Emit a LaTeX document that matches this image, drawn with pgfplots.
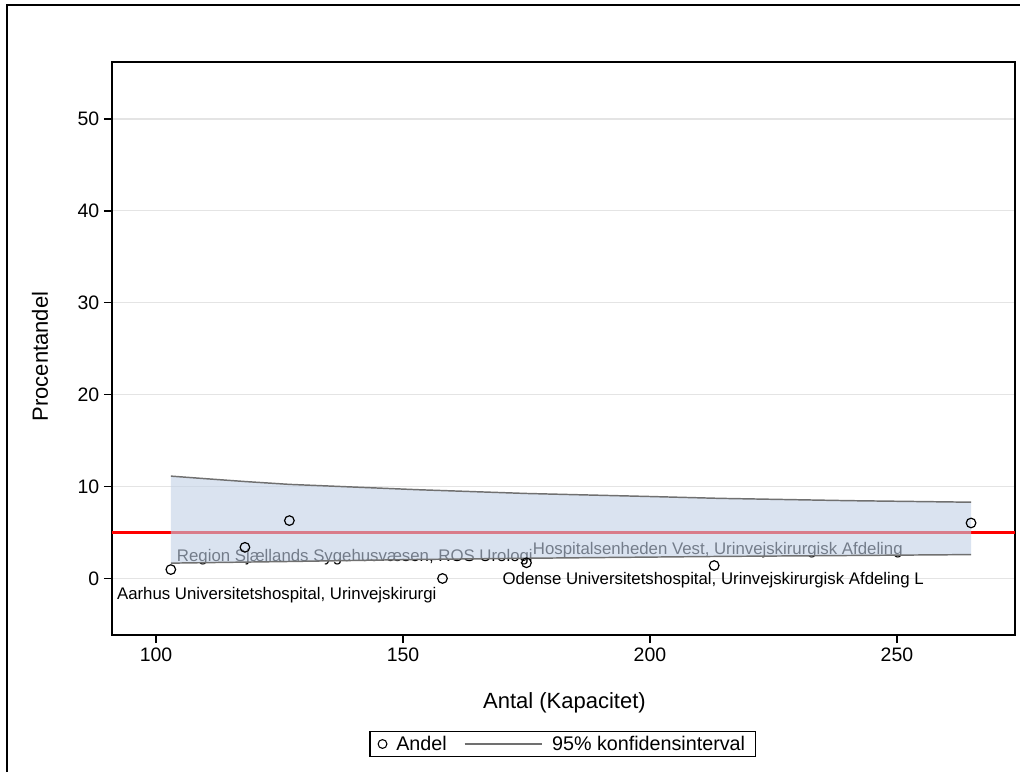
\documentclass[border=0pt]{standalone}
\usepackage{pgfplots}
\pgfplotsset{compat=1.18}
\usepackage{fontspec}
\setmainfont{Liberation Sans}
\definecolor{bandfill}{RGB}{193,208,230}
\definecolor{bandline}{RGB}{112,112,112}
\definecolor{gridc}{RGB}{228,228,228}
\begin{document}
\begin{tikzpicture}
\useasboundingbox (0,0) rectangle (765pt,579pt);
\draw[line width=1.5pt] (5.6pt,0) -- (5.6pt,574.9pt) -- (765pt,574.9pt);
\begin{axis}[
  at={(84pt,102.75pt)}, anchor=south west,
  scale only axis, width=677.25pt, height=429.75pt,
  xmin=91.09, xmax=273.9, ymin=-6.15, ymax=56.2,
  xtick={100,150,200,250}, ytick={0,10,20,30,40,50},
  tick pos=left, tick align=outside, major tick length=6pt,
  axis line style={line width=1pt},
  tick style={black, line width=1pt},
  ymajorgrids, grid style={gridc, line width=0.8pt},
  /pgf/number format/assume math mode=true,
  ticklabel style={font=\fontsize{14.6pt}{16pt}\selectfont},
  xlabel={Antal (Kapacitet)}, ylabel={Procentandel},
  label style={font=\fontsize{16.5pt}{18pt}\selectfont},
  xlabel style={at={(axis description cs:0.501,-0.1187)}, anchor=center},
  ylabel style={at={(axis description cs:-0.0797,0.486)}, anchor=center},
  legend columns=2,
  legend style={at={(axis description cs:0.4994,-0.1902)}, anchor=center,
    draw=black, line width=1pt, font=\fontsize{14.8pt}{16pt}\selectfont,
    /tikz/every odd column/.append style={column sep=5pt},
    /tikz/every even column/.append style={column sep=11pt},
    inner xsep=6pt, inner ysep=1.5pt},
]
\addlegendimage{only marks, mark=o, mark size=3.3pt, black, mark options={line width=0.8pt}}
\addlegendentry{Andel}
\addlegendimage{legend image code/.code={\draw[bandline, line width=1pt] (0pt,0pt) -- (58pt,0pt);}}
\addlegendentry{95\% konfidensinterval}

% reference line
\addplot[red, line width=2.6pt, forget plot] coordinates {(91.09,5) (273.9,5)};

% labels (drawn before the band so that the band tints them)
\node[anchor=base west, inner sep=0pt, black, font=\fontsize{12.6pt}{14pt}\selectfont]
  at (axis cs:92.07,-2.34) {Aarhus Universitetshospital, Urinvejskirurgi};
\node[anchor=base west, inner sep=0pt, black, font=\fontsize{12.6pt}{14pt}\selectfont]
  at (axis cs:104.19,1.83) {Region Sjællands Sygehusvæsen, ROS Urologi};
\node[anchor=base west, inner sep=0pt, black, font=\fontsize{12.6pt}{14pt}\selectfont]
  at (axis cs:176.25,2.56) {Hospitalsenheden Vest, Urinvejskirurgisk Afdeling};
\node[anchor=base west, inner sep=0pt, black, font=\fontsize{12.6pt}{14pt}\selectfont]
  at (axis cs:170.11,-0.60) {Odense Universitetshospital, Urinvejskirurgisk Afdeling L};

% data points
\addplot[only marks, mark=o, mark size=3.6pt, black, mark options={line width=0.9pt}, forget plot]
  coordinates {(103,0.97) (118,3.39) (127,6.30) (158,0) (175,1.71) (213,1.41) (265,6.04)};

% confidence band
\addplot[fill=bandfill, fill opacity=0.6, draw=none, forget plot] coordinates {
  (103,11.14) (110,10.86) (118,10.55) (127,10.24) (140,9.95) (153,9.66) (175,9.25) (200,8.92) (214,8.72) (240,8.47) (265,8.30)
  (265,2.60) (240,2.50) (214,2.40) (175,2.20) (153,2.07) (127,1.85) (103,1.67)
  } -- cycle;

\addplot[bandline, line width=1.1pt, forget plot] coordinates {
  (103,11.14) (110,10.86) (118,10.55) (127,10.24) (140,9.95) (153,9.66) (175,9.25) (200,8.92) (214,8.72) (240,8.47) (265,8.30)};
\addplot[bandline, line width=1.1pt, forget plot] coordinates {
  (103,1.67) (127,1.85) (153,2.07) (175,2.20) (214,2.40) (240,2.50) (265,2.60)};
\end{axis}
\end{tikzpicture}
\end{document}
